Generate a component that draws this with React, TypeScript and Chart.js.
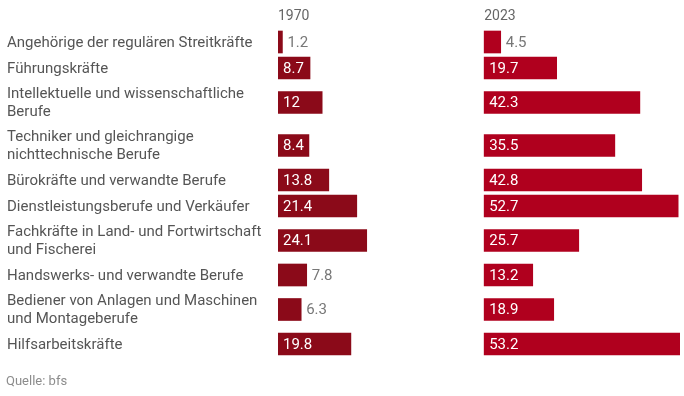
import React, { useEffect, useRef } from "react";
import { Chart, registerables } from "chart.js";

Chart.register(...registerables);

// ---------- data ----------
const categories: string[][] = [
  ["Angehörige der regulären Streitkräfte"],
  ["Führungskräfte"],
  ["Intellektuelle und wissenschaftliche", "Berufe"],
  ["Techniker und gleichrangige", "nichttechnische Berufe"],
  ["Bürokräfte und verwandte Berufe"],
  ["Dienstleistungsberufe und Verkäufer"],
  ["Fachkräfte in Land- und Fortwirtschaft", "und Fischerei"],
  ["Handswerks- und verwandte Berufe"],
  ["Bediener von Anlagen und Maschinen", "und Montageberufe"],
  ["Hilfsarbeitskräfte"],
];
const seriesNames = ["1970", "2023"];
const values1970 = [1.2, 8.7, 12, 8.4, 13.8, 21.4, 24.1, 7.8, 6.3, 19.8];
const values2023 = [4.5, 19.7, 42.3, 35.5, 42.8, 52.7, 25.7, 13.2, 18.9, 53.2];
const sourceText = "Quelle: bfs";

// ---------- layout / style ----------
const W = 684;
const H = 396;
const ROW_SINGLE = 26;
const ROW_DOUBLE = 43;
const PANEL_OFFSET = 56; // value units between the two panels' baselines
const INSIDE_MIN = 8; // values below this get their label outside the bar
const FONT = "Roboto, 'Noto Sans', sans-serif";
const COLORS = ["#8b0a19", "#b0001e"];

const rowHeights = categories.map((c) => (c.length > 1 ? ROW_DOUBLE : ROW_SINGLE));
const rowCenters: number[] = [];
{
  let acc = 0;
  rowHeights.forEach((h) => {
    rowCenters.push(acc + h / 2);
    acc += h;
  });
}
const totalRows = rowHeights.reduce((a, b) => a + b, 0);

const textPlugin = {
  id: "textPlugin",
  afterDatasetsDraw(chart: any) {
    const ctx = chart.ctx as CanvasRenderingContext2D;
    const xs = chart.scales.x;
    const ys = chart.scales.y;
    ctx.save();
    ctx.textBaseline = "middle";
    ctx.textAlign = "left";

    // headers
    ctx.font = `14px ${FONT}`;
    ctx.fillStyle = "#666666";
    ctx.fillText(seriesNames[0], xs.getPixelForValue(0), 16);
    ctx.fillText(seriesNames[1], xs.getPixelForValue(PANEL_OFFSET), 16);

    // category labels
    ctx.font = `15px ${FONT}`;
    ctx.fillStyle = "#555555";
    categories.forEach((lines, i) => {
      const cy = ys.getPixelForValue(rowCenters[i]);
      const lh = 18;
      const start = cy - ((lines.length - 1) * lh) / 2;
      lines.forEach((ln, j) => ctx.fillText(ln, 7, start + j * lh + 1));
    });

    // value labels
    ctx.font = `15px ${FONT}`;
    const sets = [values1970, values2023];
    sets.forEach((vals, di) => {
      const meta = chart.getDatasetMeta(di);
      meta.data.forEach((el: any, i: number) => {
        const v = vals[i];
        const txt = String(v);
        const left = Math.min(el.base, el.x);
        const right = Math.max(el.base, el.x);
        if (v >= INSIDE_MIN) {
          ctx.fillStyle = "#ffffff";
          ctx.fillText(txt, left + 5, el.y + 1);
        } else {
          ctx.fillStyle = "#777777";
          ctx.fillText(txt, right + 5, el.y + 1);
        }
      });
    });

    // source
    ctx.font = `13px ${FONT}`;
    ctx.fillStyle = "#8c8c8c";
    ctx.fillText(sourceText, 6, 382);
    ctx.restore();
  },
};

export default function App() {
  const ref = useRef<HTMLCanvasElement | null>(null);

  useEffect(() => {
    document.body.style.margin = "0";
    document.body.style.background = "#ffffff";
    if (!ref.current) return;
    const chart = new Chart(ref.current, {
      type: "bar",
      data: {
        datasets: [
          {
            label: seriesNames[0],
            data: values1970.map((v, i) => ({ x: [0, v], y: rowCenters[i] })) as any,
            backgroundColor: COLORS[0],
            barThickness: 22,
            grouped: false,
          } as any,
          {
            label: seriesNames[1],
            data: values2023.map((v, i) => ({
              x: [PANEL_OFFSET, PANEL_OFFSET + v],
              y: rowCenters[i],
            })) as any,
            backgroundColor: COLORS[1],
            barThickness: 22,
            grouped: false,
          } as any,
        ],
      },
      options: {
        indexAxis: "y",
        responsive: false,
        animation: false,
        events: [],
        layout: { padding: { left: 278, right: 4, top: 29, bottom: H - 29 - totalRows } },
        plugins: { legend: { display: false }, tooltip: { enabled: false } },
        scales: {
          x: {
            type: "linear",
            display: false,
            min: 0,
            max: PANEL_OFFSET + Math.max(...values2023),
          },
          y: {
            type: "linear",
            display: false,
            reverse: true,
            offset: false,
            min: 0,
            max: totalRows,
          },
        },
      } as any,
      plugins: [textPlugin],
    });
    return () => chart.destroy();
  }, []);

  return (
    <div style={{ width: W, height: H, background: "#ffffff" }}>
      <canvas ref={ref} width={W} height={H} style={{ display: "block" }} />
    </div>
  );
}
